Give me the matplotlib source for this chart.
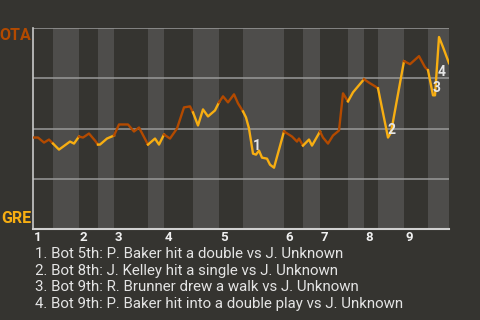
import matplotlib
matplotlib.use("Agg")
import matplotlib.pyplot as plt
import matplotlib.transforms as mtransforms

plt.rcParams['font.family'] = ['Roboto', 'DejaVu Sans']

# game progress (event position) and OTA win probability
xs = [0, 5, 11, 16, 20, 26, 37, 41, 46, 50, 56, 62, 65, 67, 74, 81, 86, 95,
      101, 106, 115, 122, 126, 131, 134, 137, 144, 151, 157, 160, 165, 170,
      175, 182, 186, 190, 195, 201, 205, 210, 213, 216, 220, 223, 226, 229,
      234, 237, 241, 251, 259, 264, 266, 270, 276, 279, 287, 290, 295, 300,
      306, 310, 315, 320, 331, 337, 342, 345, 355, 358, 371, 377, 386, 392,
      395, 400, 402, 406, 410, 416]
wp = [0.455, 0.455, 0.43, 0.445, 0.425, 0.395, 0.435, 0.425, 0.46, 0.455,
      0.475, 0.44, 0.42, 0.42, 0.45, 0.465, 0.52, 0.52, 0.485, 0.505, 0.42,
      0.45, 0.42, 0.47, 0.46, 0.45, 0.50, 0.605, 0.61, 0.58, 0.515, 0.595,
      0.56, 0.59, 0.63, 0.66, 0.63, 0.67, 0.625, 0.585, 0.555, 0.50, 0.375,
      0.37, 0.39, 0.355, 0.35, 0.32, 0.305, 0.485, 0.46, 0.435, 0.45, 0.415,
      0.445, 0.415, 0.485, 0.455, 0.425, 0.465, 0.49, 0.675, 0.635, 0.68,
      0.745, 0.725, 0.71, 0.70, 0.455, 0.48, 0.835, 0.82, 0.86, 0.805, 0.79,
      0.665, 0.665, 0.955, 0.905, 0.825]

# half-inning boundaries (top 1st ... bottom 9th)
half_edges = [0, 20, 46, 65, 81, 115, 131, 160, 186, 210, 251, 270, 287,
              315, 331, 345, 371, 395, 416]
innings = ['1', '2', '3', '4', '5', '6', '7', '8', '9']

# play markers
marker_x = [224, 358.7, 403.7, 409]
marker_y = [0.415, 0.495, 0.70, 0.78]
marker_lbl = ['1', '2', '3', '4']
notes = [
    "1. Bot 5th: P. Baker hit a double vs J. Unknown",
    "2. Bot 8th: J. Kelley hit a single vs J. Unknown",
    "3. Bot 9th: R. Brunner drew a walk vs J. Unknown",
    "4. Bot 9th: P. Baker hit into a double play vs J. Unknown",
]

bg = '#353430'
band = '#4e4d4b'
away_c = '#b34a00'
home_c = '#f7ae12'

fig = plt.figure(figsize=(4.8, 3.2), dpi=100, facecolor=bg)
ax = fig.add_axes([33/480, 1 - 229/320, 416/480, 201/320])
ax.set_facecolor(bg)
ax.set_xlim(0, 416)
ax.set_ylim(0, 1.0)

# bottom half-innings shaded
for i in range(1, len(half_edges) - 1, 2):
    ax.axvspan(half_edges[i], half_edges[i + 1], color=band, lw=0, zorder=0)

for yv in [0.25, 0.5, 0.75, 1.0]:
    ax.axhline(yv, color='#999999', lw=1.1, zorder=1)

for s in ['top', 'right']:
    ax.spines[s].set_visible(False)
ax.spines['left'].set_color('#c8c8c8')
ax.spines['bottom'].set_color('#d0d0d0')
ax.spines['left'].set_linewidth(1.2)
ax.spines['bottom'].set_linewidth(1.5)

# line, coloured by team at bat
for i in range(len(half_edges) - 1):
    a, b = half_edges[i], half_edges[i + 1]
    seg_x = [x for x in xs if a <= x <= b]
    seg_y = [y for x, y in zip(xs, wp) if a <= x <= b]
    ax.plot(seg_x, seg_y, color=away_c if i % 2 == 0 else home_c,
            lw=1.7, solid_joinstyle='round', zorder=3)

for mx, my, ml in zip(marker_x, marker_y, marker_lbl):
    ax.text(mx, my, ml, color='#e6e6e6', fontsize=10, fontweight='bold',
            ha='center', va='center', zorder=4)

ax.set_yticks([])
ax.set_xticks(half_edges[0:-1:2], labels=innings)
ax.tick_params(axis='x', length=0, pad=1.5, colors='#f0f0f0', labelsize=9.5)
for lbl in ax.get_xticklabels():
    lbl.set_fontweight('bold')
    lbl.set_horizontalalignment('left')
    lbl.set_transform(lbl.get_transform() + mtransforms.ScaledTranslation(1/100, 0, fig.dpi_scale_trans))

ax.text(-0.005, 0.998, 'OTA', transform=ax.transAxes, ha='right', va='top',
        color=away_c, fontsize=11.5, fontweight='bold')
ax.text(-0.005, 0.015, 'GRE', transform=ax.transAxes, ha='right', va='bottom',
        color=home_c, fontsize=11.5, fontweight='bold')

for k, t in enumerate(notes):
    fig.text(35/480, 1 - (254 + k * 16.7)/320, t, color='#e4e4e4',
             fontsize=10.8, ha='left', va='center')

fig.savefig('out.png', dpi=100, facecolor=bg)
